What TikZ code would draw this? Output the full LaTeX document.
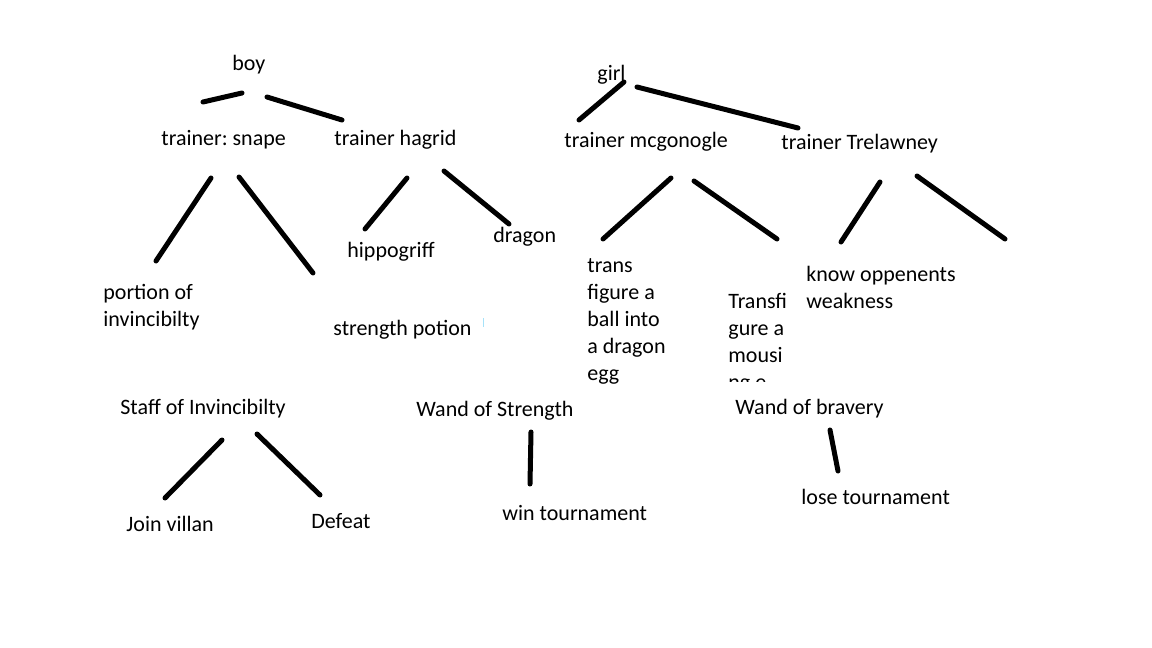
\documentclass[tikz,border=0pt]{standalone}
\usepackage{fontspec}
\setmainfont{Carlito}
\frenchspacing
\begin{document}
\begin{tikzpicture}[x=0.5pt,y=-0.5pt,
    lbl/.style={anchor=base west,inner sep=0pt,align=left,
      font=\fontsize{11pt}{13.5pt}\selectfont},
    stroke/.style={line width=2.5pt,line cap=round}]
  \useasboundingbox (0,0) rectangle (1152,648);

  \node[lbl] (boy) at (232,70) {boy};
  \node[lbl] (snape) at (161,145) {trainer: snape};
  \node[lbl] (hagrid) at (334,145) {trainer hagrid};
  \node[lbl] (girl) at (597,80) {girl};
  \node[lbl] (mcgon) at (564,147) {trainer mcgonogle};
  \node[lbl] (trelaw) at (781,149) {trainer Trelawney};
  \node[lbl] (hippo) at (347,257) {hippogriff};
  \node[lbl] (dragon) at (493,242) {dragon};
  \node[lbl] (portion) at (103,326) {portion of\\invincibilty};
  \node[lbl] (potion) at (333,335) {strength potion};
  \node[lbl] (ball) at (587,380) {trans\\figure a\\ball into\\a dragon\\egg};
  \begin{scope}
    \clip (720,280) rectangle (792,381);
    \node[lbl] (mouse) at (728,389) {Transfi\\gure a\\mousi\\ng e};
  \end{scope}
  \node[lbl] (weak) at (806,308) {know oppenents\\weakness};
  \node[lbl] (staff) at (120,414) {Staff of Invincibilty};
  \node[lbl] (wandS) at (416,416) {Wand of Strength};
  \node[lbl] (wandB) at (735,414) {Wand of bravery};
  \node[lbl] (join) at (126,531) {Join villan};
  \node[lbl] (defeat) at (311,528) {Defeat};
  \node[lbl] (win) at (502,520) {win tournament};
  \node[lbl] (lose) at (801,504) {lose tournament};

  \coordinate (boy-a) at (203,102);  \coordinate (boy-b) at (242,93);
  \coordinate (boy-c) at (267,97);   \coordinate (boy-d) at (342,120);
  \coordinate (girl-a) at (579,120); \coordinate (girl-b) at (624,82);
  \coordinate (girl-c) at (637,87);  \coordinate (girl-d) at (798,128);
  \coordinate (snape-a) at (211,178); \coordinate (snape-b) at (156,261);
  \coordinate (snape-c) at (239,177); \coordinate (snape-d) at (313,273);
  \coordinate (hagrid-a) at (407,178); \coordinate (hagrid-b) at (365,229);
  \coordinate (hagrid-c) at (444,171); \coordinate (hagrid-d) at (509,224);
  \coordinate (mcgon-a) at (671,178); \coordinate (mcgon-b) at (603,239);
  \coordinate (mcgon-c) at (694,181); \coordinate (mcgon-d) at (777,239);
  \coordinate (trelaw-a) at (880,182); \coordinate (trelaw-b) at (841,242);
  \coordinate (trelaw-c) at (917,176); \coordinate (trelaw-d) at (1005,239);
  \coordinate (staff-a) at (222,440); \coordinate (staff-b) at (165,498);
  \coordinate (staff-c) at (257,434); \coordinate (staff-d) at (320,495);
  \coordinate (wandS-a) at (531,432); \coordinate (wandS-b) at (530,484);
  \coordinate (wandB-a) at (830,430); \coordinate (wandB-b) at (838,471);

  \draw[stroke] (boy-a) -- (boy-b);
  \draw[stroke] (boy-c) -- (boy-d);
  \draw[stroke] (girl-a) -- (girl-b);
  \draw[stroke] (girl-c) -- (girl-d);
  \draw[stroke] (snape-a) -- (snape-b);
  \draw[stroke] (snape-c) -- (snape-d);
  \draw[stroke] (hagrid-a) -- (hagrid-b);
  \draw[stroke] (hagrid-c) -- (hagrid-d);
  \draw[stroke] (mcgon-a) -- (mcgon-b);
  \draw[stroke] (mcgon-c) -- (mcgon-d);
  \draw[stroke] (trelaw-a) -- (trelaw-b);
  \draw[stroke] (trelaw-c) -- (trelaw-d);
  \draw[stroke] (staff-a) -- (staff-b);
  \draw[stroke] (staff-c) -- (staff-d);
  \draw[stroke] (wandS-a) -- (wandS-b);
  \draw[stroke] (wandB-a) -- (wandB-b);

  \coordinate (mark-a) at (483,318); \coordinate (mark-b) at (483,327);
  \draw[cyan!35,line width=0.5pt] (mark-a) -- (mark-b);
\end{tikzpicture}
\end{document}
